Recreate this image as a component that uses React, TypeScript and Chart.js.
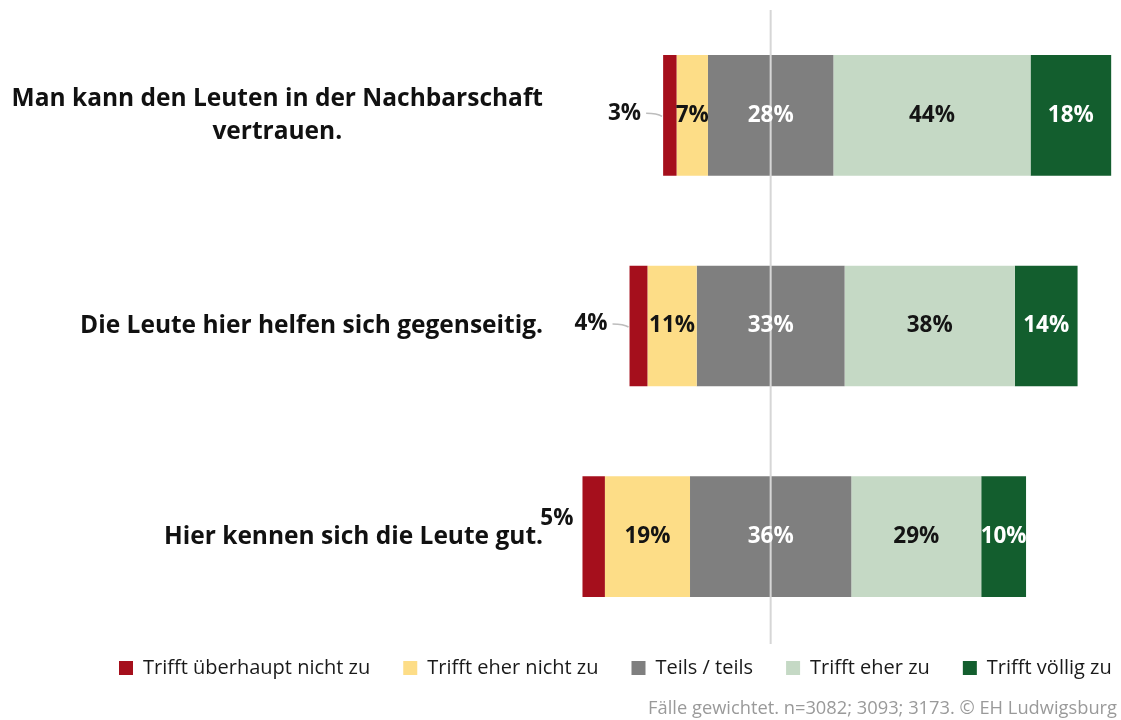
import React, { useEffect, useRef } from "react";
import { Chart, registerables } from "chart.js";

Chart.register(...registerables);

const categories: string[][] = [
  ["Man kann den Leuten in der Nachbarschaft", "vertrauen."],
  ["Die Leute hier helfen sich gegenseitig."],
  ["Hier kennen sich die Leute gut."],
];
const seriesNames = [
  "Trifft überhaupt nicht zu",
  "Trifft eher nicht zu",
  "Teils / teils",
  "Trifft eher zu",
  "Trifft völlig zu",
];
const trifftUeberhauptNicht = [3, 4, 5];
const trifftEherNicht = [7, 11, 19];
const teilsTeils = [28, 33, 36];
const trifftEher = [44, 38, 29];
const trifftVoellig = [18, 14, 10];
const seriesColors = ["#A50F1C", "#FDDD87", "#7F7F7F", "#C5D9C5", "#135E2E"];
const valueLabelColors = ["#141414", "#141414", "#FFFFFF", "#141414", "#FFFFFF"];
const footnote = "Fälle gewichtet. n=3082; 3093; 3173. © EH Ludwigsburg";

const series = [trifftUeberhauptNicht, trifftEherNicht, teilsTeils, trifftEher, trifftVoellig];

function buildRanges(): [number, number][][] {
  const ranges: [number, number][][] = series.map(() => []);
  categories.forEach((_, i) => {
    let start = -(series[0][i] + series[1][i] + series[2][i] / 2);
    series.forEach((s, k) => {
      ranges[k].push([start, start + s[i]]);
      start += s[i];
    });
  });
  return ranges;
}

const FONT = "'Open Sans', 'DejaVu Sans', sans-serif";

const overlayPlugin = {
  id: "overlay",
  afterDatasetsDraw(chart: any) {
    const { ctx, chartArea, scales } = chart;
    const x0 = scales.x.getPixelForValue(0);
    ctx.save();
    // center reference line
    ctx.strokeStyle = "#D6D6D6";
    ctx.lineWidth = 2;
    ctx.beginPath();
    ctx.moveTo(x0, chartArea.top);
    ctx.lineTo(x0, chartArea.bottom + 2);
    ctx.stroke();

    // value labels
    ctx.font = `bold 22.5px ${FONT}`;
    ctx.textBaseline = "middle";
    chart.data.datasets.forEach((_ds: any, k: number) => {
      const meta = chart.getDatasetMeta(k);
      meta.data.forEach((bar: any, i: number) => {
        const value = series[k][i];
        const p = bar.getProps(["x", "y", "base"], true);
        const left = Math.min(p.x, p.base);
        const right = Math.max(p.x, p.base);
        const text = `${value}%`;
        if (k === 0) {
          ctx.fillStyle = "#141414";
          ctx.textAlign = "right";
          if (i === categories.length - 1) {
            ctx.fillText(text, left - 9, p.y - 18);
          } else {
            const gap = 22;
            ctx.fillText(text, left - gap, p.y - 2);
            ctx.strokeStyle = "#BDBDBD";
            ctx.lineWidth = 1.5;
            ctx.beginPath();
            ctx.moveTo(left - gap + 5, p.y - 2);
            ctx.quadraticCurveTo(left - 6, p.y - 2, left - 1, p.y + 1);
            ctx.stroke();
          }
        } else {
          ctx.fillStyle = valueLabelColors[k];
          ctx.textAlign = "center";
          ctx.fillText(text, (left + right) / 2, p.y);
        }
      });
    });

    // category labels
    ctx.fillStyle = "#111111";
    ctx.font = `bold 24.5px ${FONT}`;
    ctx.textAlign = "center";
    const rightEdge = 543;
    const lineH = 33;
    categories.forEach((lines, i) => {
      const y = scales.y.getPixelForValue(i);
      const widest = Math.max(...lines.map((l) => ctx.measureText(l).width));
      const cx = rightEdge - widest / 2;
      const top = y - ((lines.length - 1) * lineH) / 2;
      lines.forEach((l, j) => ctx.fillText(l, cx, top + j * lineH));
    });
    ctx.restore();
  },
  afterDraw(chart: any) {
    const { ctx, width, height } = chart;
    ctx.save();
    // legend
    ctx.font = `20px ${FONT}`;
    ctx.textBaseline = "middle";
    ctx.textAlign = "left";
    let x = 119;
    const y = 668;
    chart.data.datasets.forEach((ds: any) => {
      ctx.fillStyle = ds.backgroundColor;
      ctx.fillRect(x, y - 7, 14, 14);
      ctx.fillStyle = "#1A1A1A";
      ctx.fillText(ds.label, x + 24, y);
      x += 24 + ctx.measureText(ds.label).width + 33;
    });
    // footnote
    ctx.font = `18.3px ${FONT}`;
    ctx.fillStyle = "#9A9A9A";
    ctx.textAlign = "right";
    ctx.fillText(footnote, width - 4, height - 11);
    ctx.restore();
  },
};

export default function App() {
  const canvasRef = useRef<HTMLCanvasElement | null>(null);

  useEffect(() => {
    if (!canvasRef.current) return;
    const ranges = buildRanges();
    const chart = new Chart(canvasRef.current, {
      type: "bar",
      data: {
        labels: categories.map((c) => c.join(" ")),
        datasets: series.map((_, k) => ({
          label: seriesNames[k],
          data: ranges[k] as any,
          backgroundColor: seriesColors[k],
          borderWidth: 0,
          grouped: false,
          barPercentage: 0.573,
          categoryPercentage: 1,
        })),
      },
      options: {
        indexAxis: "y",
        animation: false,
        responsive: true,
        maintainAspectRatio: false,
        layout: { padding: { top: 10, bottom: 78, left: 0, right: 4 } },
        scales: {
          x: { display: false, min: -43, max: 77.3 },
          y: {
            display: true,
            ticks: { display: false },
            grid: { display: false },
            border: { display: false },
            afterFit: (s: any) => {
              s.width = 578;
            },
          },
        },
        plugins: {
          legend: { display: false },
          tooltip: { enabled: false },
        },
      },
      plugins: [overlayPlugin],
    });
    return () => chart.destroy();
  }, []);

  return (
    <div style={{ position: "fixed", left: 0, top: 0, width: 1121, height: 720, background: "#fff" }}>
      <canvas ref={canvasRef} />
    </div>
  );
}
